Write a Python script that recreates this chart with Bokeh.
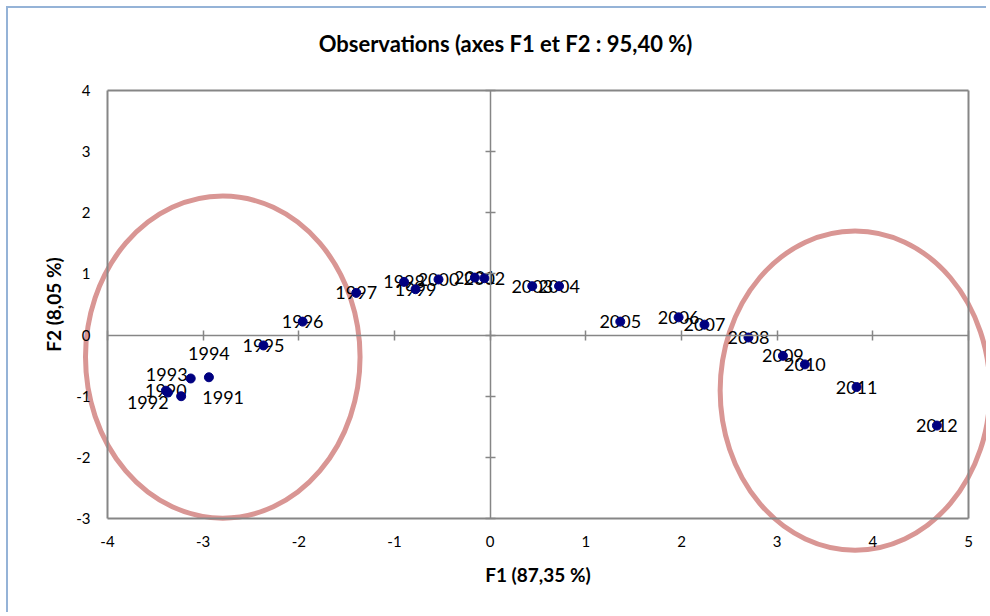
import numpy as np
from bokeh.plotting import figure
from bokeh.models import Range1d, LinearAxis, FixedTicker, ColumnDataSource, Label
from bokeh.embed import file_html
from bokeh.resources import INLINE
from bokeh.core.properties import value

# ---------------- data ----------------
years = ["1990", "1991", "1992", "1993", "1994", "1995", "1996", "1997",
         "1998", "1999", "2000", "2001", "2002", "2003", "2004", "2005",
         "2006", "2007", "2008", "2009", "2010", "2011", "2012"]
f1 = [-3.39, -3.23, -3.37, -3.13, -2.94, -2.37, -1.96, -1.40,
      -0.90, -0.78, -0.54, -0.16, -0.06, 0.44, 0.72, 1.36,
      1.97, 2.24, 2.70, 3.06, 3.29, 3.83, 4.67]
f2 = [-0.91, -1.00, -0.94, -0.71, -0.69, -0.17, 0.22, 0.69,
      0.87, 0.75, 0.91, 0.94, 0.93, 0.80, 0.80, 0.22,
      0.29, 0.17, -0.04, -0.34, -0.48, -0.85, -1.48]
# label displacement (pixels) for the hand-moved labels
label_dx = [0, 42, -20, -24, 0, 0, 0, 0, 0, 0, 0, 0, 0, 0, 0, 0, 0, 0, 0, 0, 0, 0, 0]
label_dy = [0, 1, 10, -4, -24, 0, 0, 0, 0, 0, 0, 0, 0, 0, 0, 0, 0, 0, 0, 0, 0, 0, 0]

x_ticks = [-4, -3, -2, -1, 0, 1, 2, 3, 4, 5]
x_tick_labels = ["-4", "-3", "-2", "-1", "0", "1", "2", "3", "4", "5"]
y_ticks = [-3, -2, -1, 0, 1, 2, 3, 4]
y_tick_labels = ["-3", "-2", "-1", "0", "1", "2", "3", "4"]

# highlight ellipses: centre x, centre y, width, height (data units)
ell_cx = [-2.795, 3.814]
ell_cy = [-0.36, -0.908]
ell_w = [2.87, 2.82]
ell_h = [5.27, 5.22]

title_text = "Observations (axes F1 et F2 : 95,40 %)"
x_title = "F1 (87,35 %)"
y_title = "F2 (8,05 %)"

# ---------------- layout (pixels) ----------------
W, H = 980, 606                 # canvas
BOX_L, BOX_R = 99, 960          # plot box inside canvas
BOX_T, BOX_B = 82, 510
TITLE_X, TITLE_Y = 497, 35      # title centre inside canvas

FONT = "Lato"
GREY = "#868686"

x0, x1 = x_ticks[0], x_ticks[-1]
y0, y1 = y_ticks[0], y_ticks[-1]
sx = (x1 - x0) / (BOX_R - BOX_L)
sy = (y1 - y0) / (BOX_B - BOX_T)
xr = Range1d(x0 - BOX_L * sx, x1 + (W - BOX_R) * sx)
yr = Range1d(y0 - (H - BOX_B) * sy, y1 + BOX_T * sy)

src = ColumnDataSource(dict(x=f1, y=f2, t=years, dx=label_dx, dy=label_dy))

p = figure(width=W, height=H, output_backend="svg", toolbar_location=None,
           x_range=xr, y_range=yr, x_axis_location=None, y_axis_location=None,
           min_border=0, min_border_left=0, min_border_right=0,
           min_border_top=0, min_border_bottom=0,
           background_fill_color="white", border_fill_color="white")
p.outline_line_color = None
p.xgrid.visible = False
p.ygrid.visible = False
p.styles = {"border-left": "2px solid #95B3D7", "border-top": "2px solid #95B3D7",
            "margin-left": "6px", "margin-top": "6px"}


def make_axis(loc, ticks, bounds, labels=None, axis_label=None, width=2.0, cross=False):
    ax = LinearAxis(fixed_location=loc, ticker=FixedTicker(ticks=ticks),
                    bounds=bounds, axis_line_color=GREY, axis_line_width=width,
                    minor_tick_line_color=None)
    if cross:
        ax.major_tick_line_color = GREY
        ax.major_tick_line_width = 1.5
        ax.major_tick_in = 5
        ax.major_tick_out = 5
    else:
        ax.major_tick_line_color = None
        ax.major_tick_in = 0
        ax.major_tick_out = 0
    if labels:
        ax.major_label_overrides = {t: s for t, s in zip(ticks, labels)}
        ax.major_label_text_font = FONT
        ax.major_label_text_font_size = "15px"
        ax.major_label_text_color = "black"
        ax.major_label_standoff = 17
    else:
        ax.major_label_text_font_size = "0px"
        ax.major_label_text_alpha = 0
    if axis_label:
        ax.axis_label = axis_label
        ax.axis_label_text_font = FONT
        ax.axis_label_text_font_size = "19px"
        ax.axis_label_text_font_style = "bold"
        ax.axis_label_text_color = "black"
    return ax


# frame of the plot box
bx = make_axis(y0, x_ticks, (x0, x1), x_tick_labels, x_title)
bx.axis_label_standoff = 13
p.add_layout(bx, "below")
ly = make_axis(x0, y_ticks, (y0, y1), y_tick_labels, y_title)
ly.axis_label_standoff = 8
p.add_layout(ly, "left")
p.add_layout(make_axis(y1, x_ticks, (x0, x1)), "above")
p.add_layout(make_axis(x1, y_ticks, (y0, y1)), "right")
# axes crossing at the origin
p.add_layout(make_axis(0, x_ticks, (x0, x1), width=1.5, cross=True), "below")
p.add_layout(make_axis(0, y_ticks, (y0, y1), width=1.5, cross=True), "left")

# highlight ellipses
p.ellipse(x=ell_cx, y=ell_cy, width=ell_w, height=ell_h, fill_color=None,
          line_color="#D99694", line_width=5)

p.text(x="x", y="y", text="t", source=src, x_offset="dx", y_offset="dy",
       text_font=value(FONT), text_font_size="18px", text_color="black",
       text_align="center", text_baseline="middle")
p.scatter(x="x", y="y", source=src, size=9, fill_color="#000080",
          line_color="#000080")

# chart title (centred on the chart area)
p.add_layout(Label(x=xr.start + TITLE_X * sx, y=yr.end - TITLE_Y * sy, text=title_text,
                   text_font=FONT, text_font_size="22px", text_font_style="bold",
                   text_color="black", text_align="center", text_baseline="middle"))

open("out.html", "w").write(file_html(p, INLINE))
